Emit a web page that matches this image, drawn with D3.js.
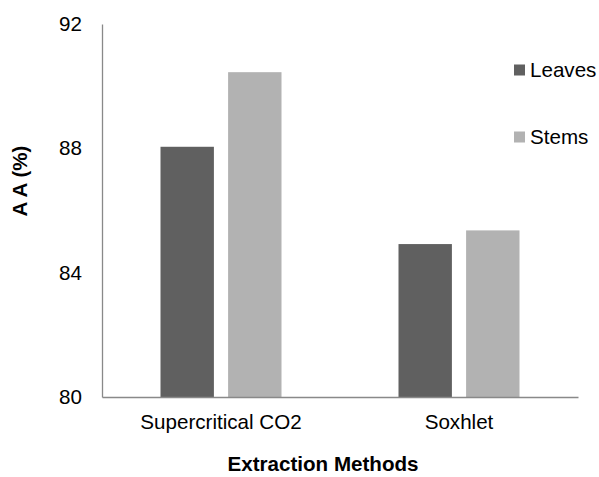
<!DOCTYPE html>
<html>
<head>
<meta charset="utf-8">
<script src="https://cdn.jsdelivr.net/npm/d3@7"></script>
<style>
  html, body { margin: 0; padding: 0; background: #ffffff; }
  text { font-family: "Liberation Sans", Arial, sans-serif; fill: #000; }
</style>
</head>
<body>
<script>
const categories = ["Supercritical CO2", "Soxhlet"];
const seriesNames = ["Leaves", "Stems"];
const leavesValues = [88.05, 84.92];
const stemsValues = [90.45, 85.36];
const yTicks = [80, 84, 88, 92];
const colors = ["#606060", "#b2b2b2"];

const W = 599, H = 477;
const plotLeft = 102, plotRight = 578, plotTop = 24, plotBottom = 397;

const svg = d3.select("body").append("svg").attr("width", W).attr("height", H);

const y = d3.scaleLinear().domain([80, 92]).range([plotBottom, plotTop]);
const x0 = d3.scaleBand().domain(categories).range([plotLeft, plotRight]).paddingInner(0).paddingOuter(0);
const groupW = 121;
const x1 = d3.scaleBand().domain(seriesNames).range([0, groupW]).paddingInner(0.21).paddingOuter(0);

const data = categories.map((c, i) => ({ cat: c, vals: [
  { s: seriesNames[0], v: leavesValues[i] },
  { s: seriesNames[1], v: stemsValues[i] }
]}));

const color = d3.scaleOrdinal().domain(seriesNames).range(colors);

// bars
const g = svg.append("g");
g.selectAll("g.grp").data(data).join("g")
  .attr("class", "grp")
  .attr("transform", d => `translate(${x0(d.cat) + (x0.bandwidth() - groupW) / 2},0)`)
  .selectAll("rect").data(d => d.vals).join("rect")
  .attr("x", d => x1(d.s))
  .attr("width", x1.bandwidth())
  .attr("y", d => y(d.v))
  .attr("height", d => y(80) - y(d.v))
  .attr("fill", d => color(d.s));

// y axis
const yAxis = svg.append("g").attr("transform", `translate(${plotLeft},0)`)
  .call(d3.axisLeft(y).tickValues(yTicks).tickSize(0).tickPadding(20).tickFormat(d3.format("d")));
yAxis.select(".domain").attr("stroke", "#898989").attr("stroke-width", 1.3);
yAxis.selectAll("text").style("font-size", "20.6px").style("font-family", "'Liberation Sans', Arial, sans-serif").attr("fill", "#000");

// x axis
const xAxis = svg.append("g").attr("transform", `translate(0,${plotBottom})`)
  .call(d3.axisBottom(x0).tickSize(0).tickPadding(17));
xAxis.select(".domain").attr("stroke", "#898989").attr("stroke-width", 1.3);
xAxis.selectAll("text").style("font-size", "20.6px").style("font-family", "'Liberation Sans', Arial, sans-serif").attr("fill", "#000");

// axis titles
svg.append("text")
  .attr("x", 323).attr("y", 471)
  .attr("text-anchor", "middle")
  .style("font-size", "20.6px").style("font-weight", "bold")
  .text("Extraction Methods");

svg.append("text")
  .attr("transform", "translate(27,181) rotate(-90)")
  .attr("text-anchor", "middle")
  .style("font-size", "20.6px").style("font-weight", "bold")
  .text("A A (%)");

// legend
const legend = svg.append("g");
const legY = [70, 137];
seriesNames.forEach((s, i) => {
  legend.append("rect")
    .attr("x", 514).attr("y", legY[i] - 5.5)
    .attr("width", 11).attr("height", 11)
    .attr("fill", colors[i]);
  legend.append("text")
    .attr("x", 530).attr("y", legY[i])
    .attr("dy", "0.35em")
    .style("font-size", "20.6px")
    .text(s);
});
</script>
</body>
</html>
